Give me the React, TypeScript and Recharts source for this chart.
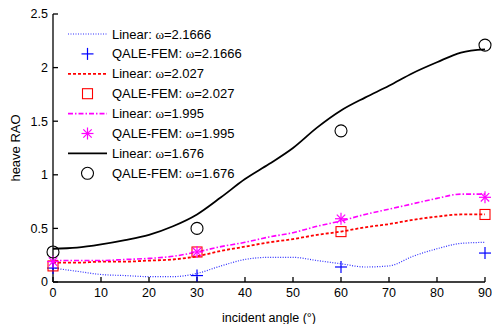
import { ComposedChart, Line, Scatter, XAxis, YAxis } from "recharts";

// incident angles used for the linear curves
const angles = [0, 5, 10, 15, 20, 25, 30, 35, 40, 45, 50, 55, 60, 65, 70, 75, 80, 85, 90];
const linear2166 = [0.13, 0.1, 0.07, 0.06, 0.05, 0.05, 0.08, 0.15, 0.21, 0.23, 0.23, 0.2, 0.17, 0.14, 0.15, 0.24, 0.31, 0.36, 0.37];
const linear2027 = [0.18, 0.18, 0.19, 0.19, 0.2, 0.21, 0.24, 0.29, 0.33, 0.37, 0.4, 0.44, 0.47, 0.51, 0.54, 0.58, 0.61, 0.63, 0.63];
const linear1995 = [0.2, 0.2, 0.2, 0.21, 0.22, 0.24, 0.28, 0.33, 0.37, 0.42, 0.46, 0.52, 0.57, 0.63, 0.68, 0.73, 0.78, 0.82, 0.82];
const linear1676 = [0.31, 0.32, 0.35, 0.39, 0.44, 0.52, 0.63, 0.79, 0.96, 1.1, 1.25, 1.44, 1.6, 1.72, 1.83, 1.95, 2.05, 2.14, 2.17];

// QALE-FEM results
const qaleAngles = [0, 30, 60, 90];
const qale2166 = [0.13, 0.06, 0.14, 0.27];
const qale2027 = [0.15, 0.28, 0.47, 0.63];
const qale1995 = [0.19, 0.28, 0.59, 0.79];
const qale1676 = [0.28, 0.5, 1.41, 2.21];

const xTicks = [0, 10, 20, 30, 40, 50, 60, 70, 80, 90];
const yTicks = [0, 0.5, 1, 1.5, 2, 2.5];

const toRows = (ys: number[], xs: number[]) => xs.map((x, i) => ({ x, y: ys[i] }));

const lines = [
  { name: "2.1666", color: "#3030ff", dash: "1 1.5", width: 1.2, values: linear2166 },
  { name: "2.027", color: "#ff0000", dash: "3 2", width: 1.8, values: linear2027 },
  { name: "1.995", color: "#ff00ff", dash: "5 2 1.5 2", width: 1.6, values: linear1995 },
  { name: "1.676", color: "#000000", dash: undefined, width: 1.8, values: linear1676 },
];

const points = [
  { name: "2.1666", color: "#0000ff", marker: "plus", values: qale2166 },
  { name: "2.027", color: "#ff0000", marker: "square", values: qale2027 },
  { name: "1.995", color: "#ff00ff", marker: "star", values: qale1995 },
  { name: "1.676", color: "#000000", marker: "circle", values: qale1676 },
];

const FONT = "'Liberation Sans', Arial, sans-serif";

function Marker({ kind, cx, cy, color }: { kind: string; cx: number; cy: number; color: string }) {
  const s = 6;
  if (kind === "plus")
    return (
      <g stroke={color} strokeWidth={1.2}>
        <line x1={cx - s} y1={cy} x2={cx + s} y2={cy} />
        <line x1={cx} y1={cy - s} x2={cx} y2={cy + s} />
      </g>
    );
  if (kind === "square")
    return <rect x={cx - 5} y={cy - 5} width={10} height={10} fill="none" stroke={color} strokeWidth={1.1} />;
  if (kind === "star")
    return (
      <g stroke={color} strokeWidth={1.2}>
        <line x1={cx - s} y1={cy} x2={cx + s} y2={cy} />
        <line x1={cx} y1={cy - s} x2={cx} y2={cy + s} />
        <line x1={cx - 4.2} y1={cy - 4.2} x2={cx + 4.2} y2={cy + 4.2} />
        <line x1={cx - 4.2} y1={cy + 4.2} x2={cx + 4.2} y2={cy - 4.2} />
      </g>
    );
  return <circle cx={cx} cy={cy} r={6} fill="none" stroke={color} strokeWidth={1.1} />;
}

function LegendBox() {
  const rows: any[] = [];
  lines.forEach((l, i) => {
    rows.push({ type: "line", label: "Linear: ", ...l });
    rows.push({ type: "point", label: "QALE-FEM: ", ...points[i] });
  });
  return (
    <svg
      width={200}
      height={rows.length * 19.9}
      style={{ position: "absolute", left: 66, top: 24, display: "block" }}
    >
      {rows.map((r, i) => {
        const cy = i * 19.9 + 10;
        return (
          <g key={i}>
            {r.type === "line" ? (
              <line x1={2} x2={41} y1={cy} y2={cy} stroke={r.color} strokeWidth={r.width} strokeDasharray={r.dash} />
            ) : (
              <Marker kind={r.marker} cx={21.5} cy={cy} color={r.color} />
            )}
            <text x={46} y={cy + 4.5} fontSize={13} fontFamily={FONT} fill="#000">
              {r.label}
              <tspan fontFamily="'Liberation Serif', serif">ω</tspan>={r.name}
            </text>
          </g>
        );
      })}
    </svg>
  );
}

export default function App() {
  return (
    <div style={{ position: "relative", width: 492, height: 324, background: "#fff" }}>
      <style>{`body{margin:0}`}</style>
      <ComposedChart width={492} height={324} margin={{ top: 14, right: 7, left: 0, bottom: 0 }}>
        <XAxis
          xAxisId="b"
          dataKey="x"
          type="number"
          domain={[0, 90]}
          ticks={xTicks}
          tickSize={-5}
          tickMargin={11}
          height={42}
          stroke="#000"
          strokeWidth={1.3}
          tick={{ fill: "#000", fontSize: 12.5, fontFamily: FONT }}
          label={{
            value: "incident angle (°)",
            position: "insideBottom",
            offset: 2,
            fill: "#000",
            fontSize: 12.5,
            fontFamily: FONT,
          }}
        />
        <XAxis
          xAxisId="t"
          orientation="top"
          dataKey="x"
          type="number"
          domain={[0, 90]}
          ticks={xTicks}
          tickSize={-5}
          height={0}
          stroke="#000"
          strokeWidth={1.3}
          tick={false}
        />
        <YAxis
          yAxisId="l"
          dataKey="y"
          type="number"
          domain={[0, 2.5]}
          ticks={yTicks}
          tickSize={-5}
          tickMargin={10}
          width={53}
          stroke="#000"
          strokeWidth={1.3}
          tick={{ fill: "#000", fontSize: 12.5, fontFamily: FONT }}
          label={{
            value: "heave RAO",
            angle: -90,
            position: "insideLeft",
            offset: 15,
            style: { textAnchor: "middle" },
            fill: "#000",
            fontSize: 13,
            fontFamily: FONT,
          }}
        />
        <YAxis
          yAxisId="r"
          orientation="right"
          dataKey="y"
          type="number"
          domain={[0, 2.5]}
          ticks={yTicks}
          tickSize={-5}
          width={0}
          stroke="#000"
          strokeWidth={1.3}
          tick={false}
        />
        {lines.map((l) => (
          <Line
            key={"l" + l.name}
            xAxisId="b"
            yAxisId="l"
            data={toRows(l.values, angles)}
            dataKey="y"
            type="monotone"
            stroke={l.color}
            strokeWidth={l.width}
            strokeDasharray={l.dash}
            dot={false}
            isAnimationActive={false}
          />
        ))}
        {points.map((p) => (
          <Scatter
            key={"p" + p.name}
            xAxisId="b"
            yAxisId="l"
            data={toRows(p.values, qaleAngles)}
            dataKey="y"
            isAnimationActive={false}
            shape={(props: any) => <Marker kind={p.marker} cx={props.cx} cy={props.cy} color={p.color} />}
          />
        ))}
      </ComposedChart>
      <LegendBox />
    </div>
  );
}
